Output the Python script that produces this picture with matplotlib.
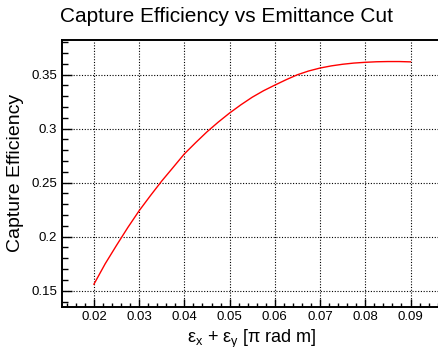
import matplotlib
matplotlib.use('Agg')
import matplotlib.pyplot as plt
from matplotlib.ticker import MultipleLocator, FuncFormatter

plt.rcParams['font.family'] = ['Liberation Sans', 'DejaVu Sans']
plt.rcParams['mathtext.fontset'] = 'custom'
plt.rcParams['mathtext.rm'] = 'Liberation Sans'
plt.rcParams['mathtext.it'] = 'Liberation Sans'

# emittance cut vs capture efficiency
emit_cut = [0.0200, 0.0225, 0.0250, 0.0275, 0.0300, 0.0325, 0.0350, 0.0375,
            0.0400, 0.0425, 0.0450, 0.0475, 0.0500, 0.0525, 0.0550, 0.0575,
            0.0600, 0.0625, 0.0650, 0.0675, 0.0700, 0.0725, 0.0750, 0.0775,
            0.0800, 0.0825, 0.0850, 0.0875, 0.0900]
efficiency = [0.156, 0.175, 0.192, 0.2085, 0.224, 0.238, 0.2515, 0.264,
              0.2766, 0.287, 0.297, 0.306, 0.3144, 0.322, 0.329, 0.335,
              0.3402, 0.3452, 0.3498, 0.3533, 0.356, 0.358, 0.3595, 0.3606,
              0.3613, 0.3618, 0.362, 0.362, 0.3617]

fig = plt.figure(figsize=(4.39, 3.47), dpi=100)
ax = fig.add_axes([62/439, 40.3/347, 1 - 62/439, 267.2/347])

ax.plot(emit_cut, efficiency, color='red', lw=1.0)

ax.set_xlim(0.01294, 0.0963)
ax.set_ylim(0.1352, 0.3824)

ax.xaxis.set_major_locator(MultipleLocator(0.01))
ax.xaxis.set_minor_locator(MultipleLocator(0.002))
ax.yaxis.set_major_locator(MultipleLocator(0.05))
ax.yaxis.set_minor_locator(MultipleLocator(0.01))
fmt = FuncFormatter(lambda v, p: '%g' % round(v, 4))
ax.xaxis.set_major_formatter(fmt)
ax.yaxis.set_major_formatter(fmt)

ax.tick_params(axis='both', which='both', direction='in', labelsize=9.5, width=1.0)
ax.tick_params(axis='y', which='major', length=7, pad=3.5)
ax.tick_params(axis='y', which='minor', length=4)
ax.tick_params(axis='x', which='major', length=5.8, pad=3)
ax.tick_params(axis='x', which='minor', length=3)

ax.grid(True, which='major', color='black', linestyle=(0, (1, 1.5)), lw=0.8)

for side in ['left', 'bottom', 'top']:
    ax.spines[side].set_linewidth(1.4)
ax.spines['right'].set_visible(False)

fig.text(226/439, 1 - 16/347, 'Capture Efficiency vs Emittance Cut',
         ha='center', va='center', fontsize=15)
ax.set_ylabel('Capture Efficiency', fontsize=14)
ax.yaxis.set_label_coords(-(62 - 16)/377, 0.5)
ax.yaxis.label.set_va('center')
ax.set_xlabel(r'ε$_{\rm x}$ + ε$_{\rm y}$ [π rad m]', fontsize=13)
ax.xaxis.set_label_coords((252 - 62)/377, -(339.5 - 306.7)/267.2)
ax.xaxis.label.set_va('center')

fig.savefig('out.png', dpi=100)
